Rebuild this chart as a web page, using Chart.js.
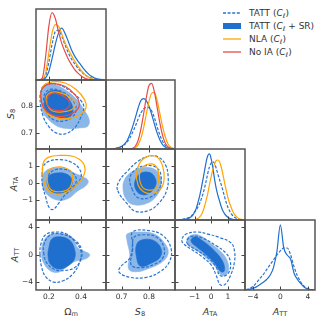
<!DOCTYPE html>
<html>
<head>
<meta charset="utf-8">
<script src="https://cdn.jsdelivr.net/npm/chart.js@4.4.1/dist/chart.umd.min.js"></script>
<style>
  body { margin: 0; width: 325px; height: 325px; overflow: hidden; position: relative; background: #fff;
         font-family: "DejaVu Sans", sans-serif; color: #333; }
  canvas { position: absolute; }
  .lab { position: absolute; font-size: 9.5px; white-space: nowrap; transform: translate(-50%, -50%); }
  .lab.rot { transform: translate(-50%, -50%) rotate(-90deg); }
  sub { font-size: 70%; vertical-align: -0.3em; line-height: 0; }
  #legend { position: absolute; left: 223px; top: 0; font-size: 9px; color: #333; }
  .item { position: absolute; left: 0; height: 13px; display: flex; align-items: center; white-space: nowrap; }
  .item svg { margin-right: 8px; }
</style>
</head>
<body>
<div id="legend">
  <div class="item" style="top:6px"><svg width="18" height="6"><line x1="0" y1="3" x2="18" y2="3" stroke="#2a74d0" stroke-width="1.3" stroke-dasharray="3 1.6"/></svg><span>TATT (<i>C</i><sub>ℓ</sub>)</span></div>
  <div class="item" style="top:19px"><svg width="18" height="6"><rect x="0" y="0" width="18" height="6" fill="#1f6fcf"/></svg><span>TATT (<i>C</i><sub>ℓ</sub> + SR)</span></div>
  <div class="item" style="top:32px"><svg width="18" height="6"><line x1="0" y1="3" x2="18" y2="3" stroke="#ffa500" stroke-width="1.3"/></svg><span>NLA (<i>C</i><sub>ℓ</sub>)</span></div>
  <div class="item" style="top:45px"><svg width="18" height="6"><line x1="0" y1="3" x2="18" y2="3" stroke="#e84a4a" stroke-width="1.3"/></svg><span>No IA (<i>C</i><sub>ℓ</sub>)</span></div>
</div>
<div class="lab" style="left:71px;top:311px">Ω<sub>m</sub></div>
<div class="lab" style="left:140px;top:311px"><i>S</i><sub>8</sub></div>
<div class="lab" style="left:210px;top:311px"><i>A</i><sub>TA</sub></div>
<div class="lab" style="left:280px;top:311px"><i>A</i><sub>TT</sub></div>
<div class="lab rot" style="left:10px;top:114px"><i>S</i><sub>8</sub></div>
<div class="lab rot" style="left:13px;top:184px"><i>A</i><sub>TA</sub></div>
<div class="lab rot" style="left:14px;top:255px"><i>A</i><sub>TT</sub></div>
<script>
// axis ranges and ticks
const omRange = [0.12, 0.556];
const s8Range = [0.643, 0.895];
const ataRange = [-2.17, 2.03];
const attRange = [-5.15, 5.05];
const omTicks = [0.2, 0.4];
const s8Ticks = [0.7, 0.8];
const ataTicks = [-1, 0, 1];
const attTicks = [-4, 0, 4];
const omTickLabels = ['0.2', '0.4'];
const s8TickLabels = ['0.7', '0.8'];
const ataTickLabels = ['\u22121', '0', '1'];
const attTickLabels = ['\u22124', '0', '4'];

// 1D marginals
const omGrid = [0.14,0.16,0.18,0.20,0.22,0.24,0.26,0.28,0.30,0.32,0.34,0.36,0.38,0.40,0.42,0.44,0.46,0.48,0.50,0.52,0.54];
const omSR   = [0,0.005,0.03,0.12,0.3,0.5,0.66,0.73,0.66,0.55,0.43,0.34,0.27,0.21,0.15,0.1,0.06,0.035,0.018,0.008,0.003];
const omTatt = [0,0.005,0.06,0.25,0.5,0.68,0.7,0.62,0.5,0.39,0.3,0.23,0.17,0.12,0.08,0.05,0.03,0.015,0.007,0.003,0];
const omNla  = [0,0.01,0.1,0.38,0.66,0.78,0.76,0.65,0.53,0.44,0.35,0.27,0.2,0.14,0.09,0.05,0.025,0.01,0.004,0,0];
const omNoIa = [0,0.03,0.33,0.76,0.95,0.87,0.68,0.52,0.4,0.3,0.22,0.15,0.1,0.06,0.03,0.012,0.004,0,0,0,0];

const s8Grid = [0.66,0.67,0.68,0.69,0.70,0.71,0.72,0.73,0.74,0.75,0.76,0.77,0.78,0.79,0.80,0.81,0.82,0.83,0.84,0.85,0.86,0.87,0.88,0.89];
const s8SR   = [0.002,0.005,0.01,0.02,0.04,0.07,0.12,0.21,0.32,0.45,0.59,0.7,0.73,0.7,0.62,0.5,0.36,0.23,0.13,0.06,0.025,0.01,0.003,0];
const s8Tatt = [0.002,0.005,0.01,0.02,0.035,0.06,0.1,0.16,0.24,0.33,0.43,0.52,0.58,0.6,0.6,0.55,0.45,0.32,0.2,0.11,0.05,0.02,0.007,0];
const s8Nla  = [0,0,0,0,0,0,0,0,0.005,0.02,0.06,0.15,0.3,0.5,0.69,0.81,0.82,0.7,0.51,0.32,0.17,0.07,0.025,0.008];
const s8NoIa = [0,0,0,0,0,0,0,0.003,0.01,0.04,0.12,0.28,0.5,0.74,0.92,0.95,0.82,0.6,0.37,0.19,0.08,0.03,0.01,0.003];

const ataGrid = [-2.0,-1.9,-1.8,-1.7,-1.6,-1.5,-1.4,-1.3,-1.2,-1.1,-1.0,-0.9,-0.8,-0.7,-0.6,-0.5,-0.4,-0.3,-0.2,-0.1,0,0.1,0.2,0.3,0.4,0.5,0.6,0.7,0.8,0.9,1.0,1.1,1.2,1.3,1.4,1.5,1.6,1.7,1.8,1.9,2.0];
const ataSR   = [0,0.002,0.003,0.005,0.008,0.012,0.02,0.03,0.045,0.07,0.11,0.16,0.24,0.33,0.44,0.56,0.69,0.82,0.91,0.93,0.86,0.74,0.58,0.45,0.35,0.27,0.19,0.13,0.09,0.06,0.04,0.025,0.015,0.008,0.004,0.002,0,0,0,0,0];
const ataTatt = [0.003,0.005,0.008,0.011,0.015,0.022,0.03,0.04,0.055,0.08,0.11,0.14,0.18,0.23,0.29,0.36,0.45,0.55,0.66,0.75,0.8,0.82,0.8,0.73,0.65,0.57,0.5,0.42,0.33,0.25,0.18,0.13,0.09,0.06,0.04,0.025,0.015,0.008,0.004,0.002,0];
const ataNla  = [0,0,0,0,0,0,0,0,0,0,0.005,0.01,0.02,0.04,0.07,0.12,0.19,0.28,0.38,0.5,0.61,0.71,0.79,0.835,0.845,0.82,0.75,0.65,0.53,0.42,0.32,0.24,0.18,0.12,0.08,0.05,0.03,0.017,0.008,0.003,0];

const attGrid = [-5,-4.5,-4,-3.5,-3,-2.5,-2,-1.5,-1,-0.5,0,0.5,1,1.5,2,2.5,3,3.5,4,4.5,5];
const attSR   = [0,0.01,0.025,0.045,0.075,0.11,0.15,0.21,0.32,0.55,0.93,0.6,0.5,0.44,0.24,0.15,0.09,0.04,0.015,0.005,0];
const attTatt = [0.003,0.02,0.05,0.1,0.16,0.22,0.29,0.36,0.43,0.5,0.56,0.6,0.6,0.5,0.33,0.2,0.11,0.05,0.02,0.005,0];

// 2D contours [x, y]; 68% and 95% levels
const omS8Sr95 = [[0.15,0.838],[0.16,0.868],[0.19,0.88],[0.24,0.878],[0.3,0.86],[0.37,0.826],[0.42,0.785],[0.452,0.748],[0.44,0.725],[0.39,0.72],[0.327,0.717],[0.27,0.722],[0.233,0.733],[0.19,0.755],[0.16,0.78]];
const omS8Sr68 = [[0.172,0.815],[0.185,0.845],[0.23,0.858],[0.285,0.848],[0.33,0.82],[0.35,0.79],[0.34,0.765],[0.3,0.757],[0.25,0.76],[0.2,0.775],[0.175,0.795]];
const omS8Tatt95 = [[0.145,0.83],[0.16,0.868],[0.2,0.882],[0.27,0.876],[0.34,0.852],[0.4,0.82],[0.418,0.795],[0.4,0.76],[0.36,0.72],[0.3,0.698],[0.245,0.702],[0.2,0.725],[0.163,0.765]];
const omS8Tatt68 = [[0.168,0.82],[0.18,0.85],[0.22,0.862],[0.29,0.85],[0.35,0.82],[0.37,0.79],[0.35,0.762],[0.29,0.745],[0.23,0.75],[0.19,0.772]];
const omS8Nla95 = [[0.15,0.84],[0.165,0.873],[0.22,0.888],[0.3,0.884],[0.37,0.86],[0.42,0.825],[0.432,0.795],[0.4,0.77],[0.33,0.755],[0.26,0.755],[0.2,0.768],[0.16,0.8]];
const omS8Nla68 = [[0.185,0.815],[0.195,0.843],[0.25,0.851],[0.32,0.836],[0.365,0.812],[0.35,0.79],[0.29,0.779],[0.22,0.783]];
const omS8NoIa95 = [[0.15,0.835],[0.165,0.868],[0.22,0.882],[0.3,0.872],[0.365,0.84],[0.39,0.805],[0.36,0.778],[0.29,0.762],[0.22,0.768],[0.17,0.792]];
const omS8NoIa68 = [[0.19,0.82],[0.2,0.84],[0.25,0.846],[0.31,0.828],[0.33,0.802],[0.29,0.785],[0.23,0.786],[0.195,0.8]];

const omAtaSr95 = [[0.158,0.1],[0.165,0.5],[0.19,0.8],[0.25,0.92],[0.31,0.85],[0.36,0.6],[0.41,0.4],[0.445,0.15],[0.43,-0.15],[0.38,-0.45],[0.32,-0.9],[0.26,-1.0],[0.2,-0.75],[0.165,-0.3]];
const omAtaSr68 = [[0.195,-0.2],[0.19,0.2],[0.21,0.5],[0.26,0.62],[0.31,0.55],[0.34,0.3],[0.345,-0.05],[0.32,-0.4],[0.27,-0.6],[0.22,-0.5]];
const omAtaTatt95 = [[0.158,0.5],[0.165,1.0],[0.2,1.3],[0.27,1.4],[0.34,1.25],[0.39,0.85],[0.4,0.35],[0.36,-0.2],[0.3,-0.7],[0.26,-1.2],[0.225,-1.55],[0.2,-1.4],[0.18,-0.8],[0.16,-0.1]];
const omAtaTatt68 = [[0.205,-0.1],[0.2,0.5],[0.24,0.8],[0.3,0.82],[0.35,0.6],[0.372,0.2],[0.35,-0.2],[0.3,-0.5],[0.24,-0.5]];
const omAtaNla95 = [[0.165,0.4],[0.165,1.2],[0.2,1.55],[0.27,1.65],[0.35,1.6],[0.41,1.25],[0.425,0.7],[0.4,0.2],[0.35,-0.3],[0.29,-0.6],[0.23,-0.6],[0.185,-0.3]];
const omAtaNla68 = [[0.19,0.2],[0.2,0.75],[0.24,0.95],[0.3,0.92],[0.34,0.65],[0.345,0.1],[0.32,-0.35],[0.26,-0.5],[0.21,-0.35]];

const s8AtaSr95 = [[0.705,-0.3],[0.71,0.2],[0.73,0.6],[0.77,0.9],[0.81,0.9],[0.835,0.6],[0.845,0.0],[0.83,-0.7],[0.79,-1.2],[0.74,-1.25],[0.715,-0.9]];
const s8AtaSr68 = [[0.75,-0.3],[0.75,0.2],[0.77,0.6],[0.8,0.65],[0.82,0.4],[0.825,-0.1],[0.8,-0.6],[0.77,-0.65]];
const s8AtaTatt95 = [[0.685,-0.4],[0.69,0.1],[0.72,0.7],[0.76,1.3],[0.8,1.6],[0.835,1.55],[0.86,1.1],[0.87,0.4],[0.865,-0.4],[0.84,-1.1],[0.8,-1.6],[0.75,-1.65],[0.72,-1.2]];
const s8AtaTatt68 = [[0.74,-0.4],[0.73,0.3],[0.75,0.8],[0.79,1.05],[0.83,0.9],[0.845,0.3],[0.835,-0.4],[0.8,-0.85],[0.76,-0.85]];
const s8AtaNla95 = [[0.76,-0.1],[0.755,0.6],[0.77,1.3],[0.8,1.62],[0.83,1.55],[0.85,1.0],[0.855,0.2],[0.84,-0.4],[0.81,-0.6],[0.78,-0.5]];
const s8AtaNla68 = [[0.775,-0.2],[0.765,0.5],[0.78,1.0],[0.81,1.15],[0.83,0.9],[0.835,0.3],[0.825,-0.3],[0.8,-0.4]];

const omAttSr95 = [[0.155,0.3],[0.16,1.5],[0.19,2.7],[0.24,3.1],[0.3,3.0],[0.35,2.4],[0.38,1.0],[0.42,0.5],[0.455,0.0],[0.43,-0.6],[0.36,-1.0],[0.3,-2.0],[0.25,-2.6],[0.2,-2.2],[0.16,-0.8]];
const omAttSr68 = [[0.195,-0.2],[0.2,1.0],[0.22,2.3],[0.27,2.6],[0.33,2.1],[0.36,0.8],[0.36,-0.6],[0.32,-1.6],[0.26,-2.1],[0.21,-1.4]];
const omAttTatt95 = [[0.145,0.0],[0.15,1.5],[0.18,2.9],[0.25,3.3],[0.31,3.0],[0.36,2.0],[0.4,0.5],[0.39,-1.2],[0.35,-2.8],[0.29,-3.8],[0.23,-4.0],[0.18,-3.2],[0.155,-1.8]];
const omAttTatt68 = [[0.17,0.0],[0.17,1.5],[0.21,2.9],[0.28,3.0],[0.35,2.3],[0.4,1.0],[0.4,-0.7],[0.36,-1.9],[0.3,-2.3],[0.24,-2.2],[0.19,-1.3]];

const s8AttSr95 = [[0.72,2.0],[0.72,3.0],[0.76,3.3],[0.82,3.0],[0.86,1.5],[0.87,0.2],[0.85,-1.0],[0.8,-2.0],[0.75,-2.5],[0.725,-2.0],[0.73,0.0]];
const s8AttSr68 = [[0.755,-0.5],[0.755,1.5],[0.78,2.2],[0.82,2.0],[0.845,0.8],[0.84,-0.4],[0.81,-1.2],[0.77,-1.7]];
const s8AttTatt95 = [[0.74,1.5],[0.74,3.3],[0.8,3.5],[0.85,2.8],[0.88,1.0],[0.875,-1.0],[0.84,-2.5],[0.79,-3.3],[0.73,-3.3],[0.69,-2.5],[0.7,-1.6],[0.73,-0.5]];
const s8AttTatt68 = [[0.74,0.5],[0.745,2.5],[0.78,2.9],[0.83,2.5],[0.855,1.0],[0.85,-0.5],[0.82,-1.4],[0.77,-1.9],[0.735,-1.5]];

const ataAttSr95 = [[-1.3,1.3],[-1.45,2.3],[-1.1,2.9],[-0.6,2.7],[0.0,1.6],[0.6,0.4],[0.95,-0.8],[1.05,-2.2],[0.85,-3.0],[0.55,-2.9],[0.3,-1.9],[-0.2,-0.7],[-0.8,0.5]];
const ataAttSr68 = [[-1.15,1.7],[-1.2,2.2],[-0.95,2.6],[-0.5,2.0],[0.1,0.8],[0.6,-0.6],[0.8,-1.8],[0.75,-2.5],[0.55,-2.4],[0.2,-1.2],[-0.3,0.0],[-0.9,1.2]];
const ataAttTatt95 = [[-1.7,1.7],[-1.75,2.3],[-1.5,3.0],[-0.8,3.3],[-0.2,3.0],[0.5,2.5],[1.2,1.7],[1.4,0.5],[1.4,-1.0],[1.2,-2.8],[0.85,-4.3],[0.55,-4.4],[0.3,-3.0],[0.0,-1.5],[-0.6,-0.2],[-1.2,0.8]];
const ataAttTatt68 = [[-1.4,1.5],[-1.45,2.1],[-1.1,2.7],[-0.5,2.4],[0.3,1.3],[0.9,0.2],[1.15,-1.0],[1.1,-2.4],[0.8,-3.1],[0.5,-3.0],[0.3,-1.8],[-0.2,-0.4],[-0.9,0.7]];

const LIGHT = '#8ab6e8', DARK = '#1f6fcf', DASH = '#2a74d0', ORANGE = '#ffa500', RED = '#e84a4a';

// panel grid edges (px)
const X = [36, 106, 175, 245, 315];
const Y = [9, 80, 149, 220, 290];

const params = [
  { range: omRange, ticks: omTicks, labels: omTickLabels },
  { range: s8Range, ticks: s8Ticks, labels: s8TickLabels },
  { range: ataRange, ticks: ataTicks, labels: ataTickLabels },
  { range: attRange, ticks: attTicks, labels: attTickLabels },
];

const toXY = pts => pts.map(p => ({ x: p[0], y: p[1] }));
function region(pts, color, order) {
  return { data: toXY(pts), closed: true, fill: 'shape', backgroundColor: color, borderColor: color,
           borderWidth: 0.6, tension: 0.4, order };
}
function contour(pts, color, dashed, order) {
  return { data: toXY(pts), closed: true, fill: false, borderColor: color, borderWidth: 1.2,
           borderDash: dashed ? [3, 1.6] : [], tension: 0.4, order };
}
function curve(grid, vals, color, dashed, order) {
  return { data: grid.map((x, i) => ({ x, y: vals[i] })), fill: false, borderColor: color, borderWidth: 1.2,
           borderDash: dashed ? [3, 1.6] : [], cubicInterpolationMode: 'monotone', order };
}

// closes contour lines and draws the frame + inward ticks
const frame = {
  id: 'frame',
  afterDatasetUpdate(chart, args) {
    if (chart.data.datasets[args.index].closed) {
      args.meta.dataset._loop = true;
      args.meta.dataset._fullLoop = true;
    }
  },
  afterDatasetsDraw(chart, args, opts) {
    const { ctx, chartArea: a, scales } = chart;
    const L = 3.5;
    ctx.save();
    ctx.strokeStyle = '#444';
    ctx.lineWidth = 1;
    ctx.beginPath();
    for (const t of scales.x.ticks) {
      const x = Math.round(scales.x.getPixelForValue(t.value)) + 0.5;
      ctx.moveTo(x, a.bottom); ctx.lineTo(x, a.bottom - L);
      if (!opts.diag) { ctx.moveTo(x, a.top); ctx.lineTo(x, a.top + L); }
    }
    if (!opts.diag) {
      for (const t of scales.y.ticks) {
        const y = Math.round(scales.y.getPixelForValue(t.value)) + 0.5;
        ctx.moveTo(a.left, y); ctx.lineTo(a.left + L, y);
        ctx.moveTo(a.right, y); ctx.lineTo(a.right - L, y);
      }
    }
    ctx.stroke();
    ctx.strokeStyle = '#555';
    ctx.lineWidth = 1.5;
    ctx.strokeRect(a.left, a.top, a.width, a.height);
    ctx.restore();
  }
};

function axis(p, show, dir, size) {
  return {
    type: 'linear', min: p.range[0], max: p.range[1], display: show,
    grid: { display: false, drawTicks: false }, border: { display: false },
    ticks: { autoSkip: false, maxRotation: 0, padding: 3, color: '#333',
             font: { family: 'DejaVu Sans', size: 7.5 }, callback: (v, i) => p.labels[i] },
    afterBuildTicks: s => { s.ticks = p.ticks.map(v => ({ value: v })); },
    afterFit: s => {
      if (dir === 'x') s.height = size; else s.width = size;
      s.paddingLeft = s.paddingRight = s.paddingTop = s.paddingBottom = 0;
    }
  };
}

function panel(r, c, datasets) {
  const diag = r === c;
  const showX = r === 3, showY = c === 0 && r > 0;
  const axW = showY ? 24 : 0, axH = showX ? 14 : 0;
  const cv = document.createElement('canvas');
  cv.width = X[c + 1] - X[c] + 4 + axW;
  cv.height = Y[r + 1] - Y[r] + 4 + axH;
  cv.style.left = (X[c] - 2 - axW) + 'px';
  cv.style.top = (Y[r] - 2) + 'px';
  document.body.appendChild(cv);
  new Chart(cv, {
    type: 'line',
    data: { datasets },
    options: {
      responsive: false, animation: false, events: [],
      layout: { padding: 2 },
      elements: { point: { radius: 0 } },
      plugins: { legend: { display: false }, tooltip: { enabled: false }, frame: { diag } },
      scales: {
        x: axis(params[c], showX, 'x', axH),
        y: diag
          ? { type: 'linear', min: 0, max: 1, display: false,
              afterFit: s => { s.width = 0; s.paddingLeft = s.paddingRight = s.paddingTop = s.paddingBottom = 0; } }
          : axis(params[r], showY, 'y', axW)
      }
    },
    plugins: [frame]
  });
}

function twoD(sr95, sr68, t95, t68, n95, n68, z95, z68) {
  const ds = [region(sr95, LIGHT, 9), region(sr68, DARK, 8), contour(t95, DASH, true, 5), contour(t68, DASH, true, 4)];
  if (n95) ds.push(contour(n95, ORANGE, false, 3), contour(n68, ORANGE, false, 3));
  if (z95) ds.push(contour(z95, RED, false, 1), contour(z68, RED, false, 1));
  return ds;
}

panel(0, 0, [curve(omGrid, omTatt, DASH, true, 4), curve(omGrid, omSR, DARK, false, 3),
             curve(omGrid, omNla, ORANGE, false, 2), curve(omGrid, omNoIa, RED, false, 1)]);
panel(1, 1, [curve(s8Grid, s8Tatt, DASH, true, 4), curve(s8Grid, s8SR, DARK, false, 3),
             curve(s8Grid, s8Nla, ORANGE, false, 2), curve(s8Grid, s8NoIa, RED, false, 1)]);
panel(2, 2, [curve(ataGrid, ataTatt, DASH, true, 4), curve(ataGrid, ataSR, DARK, false, 3),
             curve(ataGrid, ataNla, ORANGE, false, 2)]);
panel(3, 3, [curve(attGrid, attTatt, DASH, true, 4), curve(attGrid, attSR, DARK, false, 3)]);

panel(1, 0, twoD(omS8Sr95, omS8Sr68, omS8Tatt95, omS8Tatt68, omS8Nla95, omS8Nla68, omS8NoIa95, omS8NoIa68));
panel(2, 0, twoD(omAtaSr95, omAtaSr68, omAtaTatt95, omAtaTatt68, omAtaNla95, omAtaNla68));
panel(2, 1, twoD(s8AtaSr95, s8AtaSr68, s8AtaTatt95, s8AtaTatt68, s8AtaNla95, s8AtaNla68));
panel(3, 0, twoD(omAttSr95, omAttSr68, omAttTatt95, omAttTatt68));
panel(3, 1, twoD(s8AttSr95, s8AttSr68, s8AttTatt95, s8AttTatt68));
panel(3, 2, twoD(ataAttSr95, ataAttSr68, ataAttTatt95, ataAttTatt68));
</script>
</body>
</html>
